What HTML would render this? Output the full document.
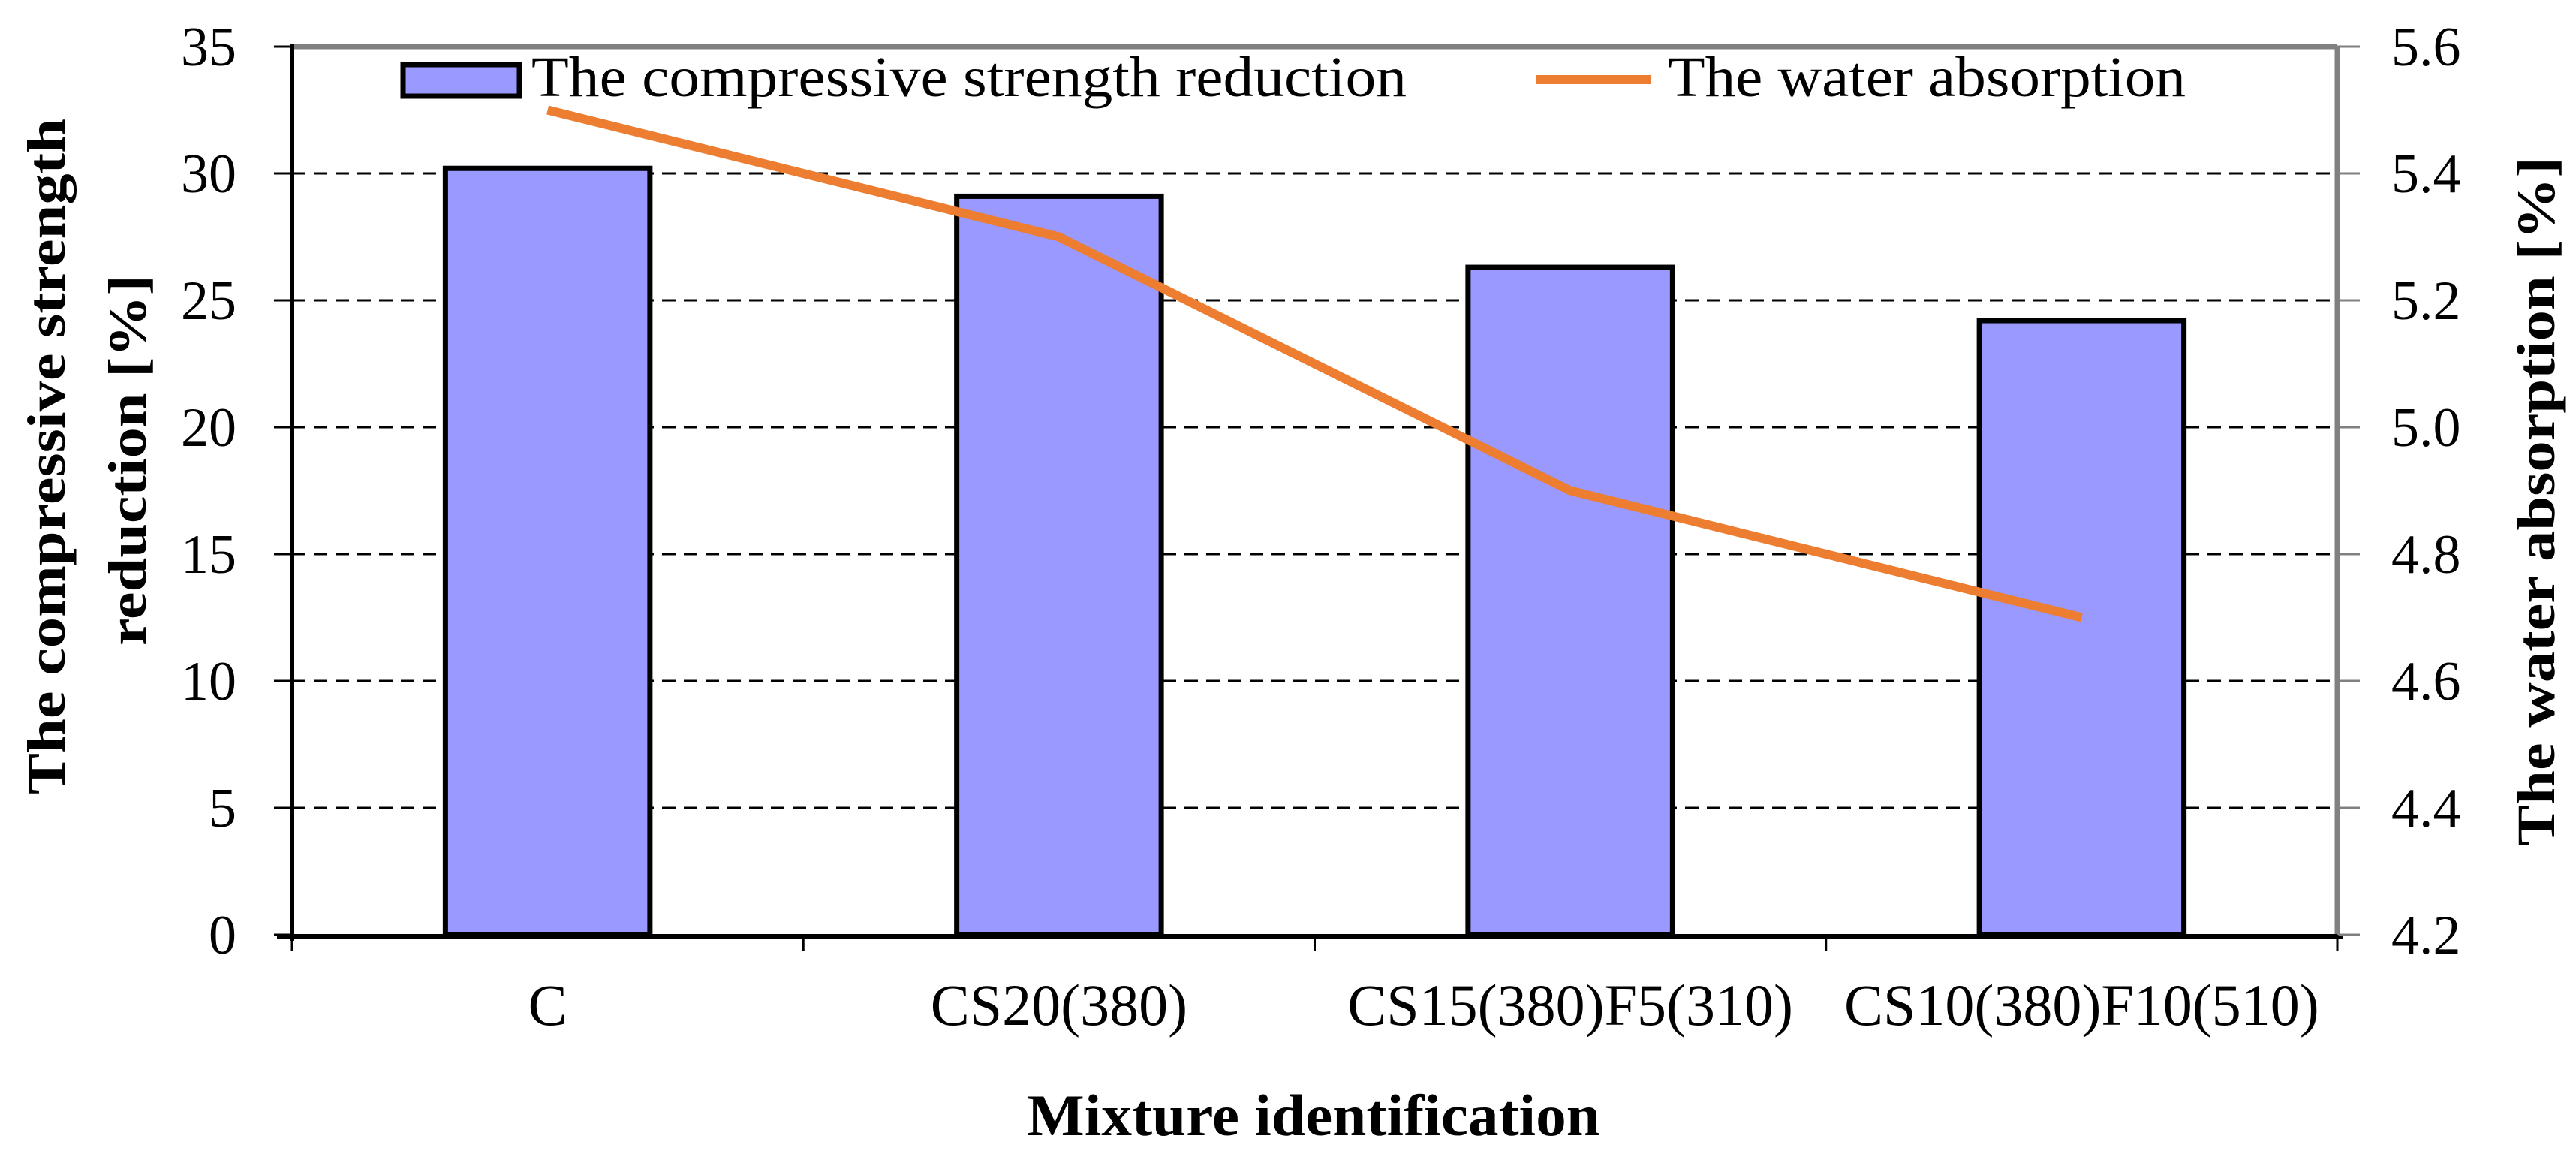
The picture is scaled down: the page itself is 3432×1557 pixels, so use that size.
<!DOCTYPE html>
<html><head><meta charset="utf-8">
<style>html,body{margin:0;padding:0;background:#fff;}svg{display:block;}text{font-family:"Liberation Serif",serif;}</style>
</head><body>
<svg id="chart" width="3432" height="1557" viewBox="0 0 3432 1557" xmlns="http://www.w3.org/2000/svg">
<g id="grid"></g>
<g id="bars"></g>
<g id="axes"></g>
<g id="line"></g>
<g id="labels"></g>
<g>
  <rect x="537" y="86" width="155" height="42" fill="#9999ff" stroke="#000" stroke-width="7"/>
  <text x="708" y="128" font-size="76" textLength="1166" lengthAdjust="spacingAndGlyphs">The compressive strength reduction</text>
  <line x1="2047" y1="106" x2="2200" y2="106" stroke="#ed7d31" stroke-width="12"/>
  <text x="2222" y="128" font-size="76" textLength="690" lengthAdjust="spacingAndGlyphs">The water absorption</text>
</g>
<text transform="translate(86,608) rotate(-90)" text-anchor="middle" font-size="72" font-weight="bold" textLength="900" lengthAdjust="spacingAndGlyphs">The compressive strength</text>
<text transform="translate(194,613) rotate(-90)" text-anchor="middle" font-size="72" font-weight="bold" textLength="494" lengthAdjust="spacingAndGlyphs">reduction [%]</text>
<text transform="translate(3403,668) rotate(-90)" text-anchor="middle" font-size="72" font-weight="bold" textLength="918" lengthAdjust="spacingAndGlyphs">The water absorption [%]</text>
<text x="1750" y="1512" text-anchor="middle" font-size="78" font-weight="bold" textLength="764" lengthAdjust="spacingAndGlyphs">Mixture identification</text>
</svg>
<script>
const categories = ["C", "CS20(380)", "CS15(380)F5(310)", "CS10(380)F10(510)"];
const strengthReduction = [30.2, 29.1, 26.3, 24.2];
const waterAbsorption = [5.5, 5.3, 4.9, 4.7];
const leftTicks = [0, 5, 10, 15, 20, 25, 30, 35];
const rightTicks = ["4.2", "4.4", "4.6", "4.8", "5.0", "5.2", "5.4", "5.6"];

const NS = "http://www.w3.org/2000/svg";
const X0 = 389, X1 = 3114, Y0 = 62, Y1 = 1245;
const yL = v => Y1 - (v - 0) / (35 - 0) * (Y1 - Y0);
const yR = v => Y1 - (v - 4.2) / (5.6 - 4.2) * (Y1 - Y0);
const band = (X1 - X0) / categories.length;
const xC = i => X0 + band * (i + 0.5);
function mk(tag, attrs, parent) {
  const e = document.createElementNS(NS, tag);
  for (const k in attrs) e.setAttribute(k, attrs[k]);
  document.getElementById(parent).appendChild(e);
  return e;
}
// gridlines
leftTicks.forEach(t => {
  if (t === 0 || t === 35) return;
  const g = mk("line", {x1: X0, x2: X1, y1: yL(t), y2: yL(t), stroke: "#000", "stroke-width": 3, "stroke-dasharray": "18 11"}, "grid");
  
  
});
// bars
const bw = band * 0.4;
strengthReduction.forEach((v, i) => {
  const r = mk("rect", {x: xC(i) - bw / 2, y: yL(v), width: bw, height: Y1 - yL(v), fill: "#9999ff", stroke: "#000", "stroke-width": 7}, "bars");
  
  
});
// axes
let a;
a = mk("line", {x1: X0, x2: X1, y1: Y0, y2: Y0, stroke: "#808080", "stroke-width": 7}, "axes");


a = mk("line", {x1: X1, x2: X1, y1: Y0, y2: Y1, stroke: "#808080", "stroke-width": 7}, "axes");


a = mk("line", {x1: X0, x2: X0, y1: Y0 - 3, y2: Y1 + 8, stroke: "#000", "stroke-width": 6}, "axes");


a = mk("line", {x1: X0 - 20, x2: X1 + 8, y1: Y1 + 2, y2: Y1 + 2, stroke: "#000", "stroke-width": 6}, "axes");


leftTicks.forEach(t => {
  const l = mk("line", {x1: X0 - 24, x2: X0, y1: yL(t), y2: yL(t), stroke: "#000", "stroke-width": 3}, "axes");
  
  
  const tx = mk("text", {x: 315, y: yL(t) + 25, "text-anchor": "end", "font-size": 74}, "labels");
  tx.textContent = t;
  
  
});
rightTicks.forEach((t, i) => {
  const v = parseFloat(t);
  const l = mk("line", {x1: X1, x2: X1 + 30, y1: yR(v), y2: yR(v), stroke: "#808080", "stroke-width": 3}, "axes");
  
  
  const tx = mk("text", {x: 3186, y: yR(v) + 25, "font-size": 74}, "labels");
  tx.textContent = t;
  
  
});
for (let i = 0; i <= categories.length; i++) {
  const l = mk("line", {x1: X0 + band * i, x2: X0 + band * i, y1: Y1, y2: Y1 + 22, stroke: "#000", "stroke-width": 3}, "axes");
  
  
}
categories.forEach((c, i) => {
  const tx = mk("text", {x: xC(i), y: 1365, "text-anchor": "middle", "font-size": 78}, "labels");
  tx.textContent = c;
  
  
});
// line
const pts = waterAbsorption.map((v, i) => xC(i) + "," + yR(v)).join(" ");
const pl = mk("polyline", {points: pts, fill: "none", stroke: "#ed7d31", "stroke-width": 12, "stroke-linejoin": "round"}, "line");


</script>
</body></html>
